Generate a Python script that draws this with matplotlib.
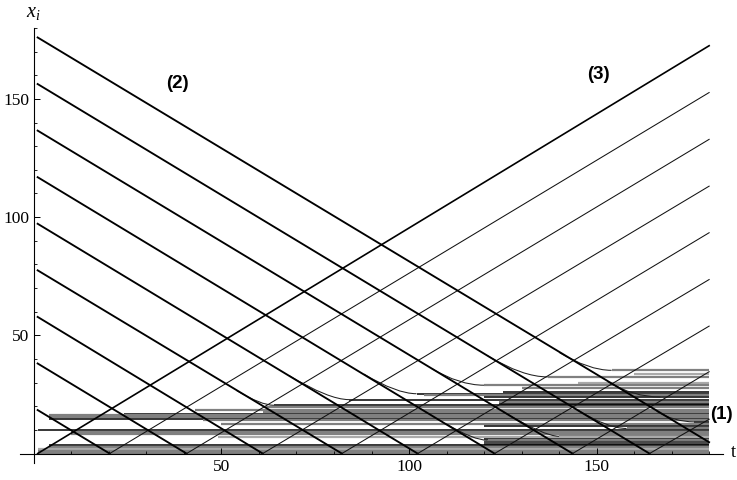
import matplotlib
matplotlib.use("Agg")
from matplotlib import pyplot as plt
from matplotlib.path import Path
from matplotlib.patches import PathPatch

# serif text like the original notebook output
plt.rcParams['font.family'] = ['Liberation Serif', 'DejaVu Serif']
plt.rcParams['mathtext.fontset'] = 'custom'
plt.rcParams['mathtext.rm'] = 'Liberation Serif'
plt.rcParams['mathtext.it'] = 'Liberation Serif:italic'

# time range of the run
t_first = 1
t_last = 180
# speed of the moving particles (slope)
speed = 0.958

# group (2): particles moving down, position at t_first and time they hit x=0
desc_start = [18.4, 38.1, 57.8, 77.5, 97.2, 116.9, 136.6, 156.3, 176.0]
desc_bounce = [20.2, 40.7, 61.0, 82.1, 102.3, 122.8, 143.6, 164.1, None]
# the top one never reaches the wall, this is where it is at t_last
desc_top_end = 4.8

# group (3): particles moving up, position at t_last
# first one starts at the origin, the others come from the bounces above
asc_end = [172.5, 152.7, 132.9, 113.1, 93.4, 73.6, 53.9, 34.6, 14.5]

# particles that leave a falling line and slow down to rest
curve_t0 = [54, 68, 88, 106, 121, 140, 153, 166, 145, 125, 110]
curve_x0 = [26.7, 33.0, 33.6, 36.0, 41.3, 42.8, 30.4, 17.9, 18.3, 17.8, 12.5]
curve_level = [20.4, 22.8, 25.3, 28.9, 32.4, 35.2, 23.9, 13.4, 10.6, 7.3, 5.6]
curve_t1 = [64, 84, 102, 120, 137, 154, 167, 176, 158, 140, 121]

# group (1): particles at rest, level, time they appear, shade
rest_level = [35.2, 33.6, 32.4, 29.7, 28.9, 27.7, 26.0, 25.3, 24.6, 23.9,
              22.8, 21.8, 21.1, 20.4, 19.7, 18.6, 17.6, 16.9, 16.2, 15.5,
              14.8, 14.1, 13.4, 12.4, 11.5, 10.6, 10.1, 9.1, 8.4, 7.3,
              7.0, 6.3, 5.6, 4.9, 4.2, 3.5, 2.8, 1.8, 1.1, 0.4]
rest_start = [154, 160, 137, 145, 120, 130, 125, 102, 104, 120,
              84, 124, 124, 64, 62, 43, 61, 24, 4, 4,
              4, 45, 176, 50, 120, 158, 1, 10, 10, 140,
              49, 120, 121, 120, 120, 4, 4, 1, 1, 1]
rest_shade = ['g', 'l', 'g', 'l', 'g', 'g', 'k', 'k', 'g', 'k',
              'k', 'g', 'k', 'k', 'g', 'g', 'g', 'k', 'g', 'g',
              'k', 'g', 'k', 'g', 'k', 'g', 'k', 'g', 'g', 'g',
              'l', 'k', 'g', 'd', 'd', 'k', 'g', 'l', 'g', 'g']
shades = {'k': '#000000', 'd': '#4a4a4a', 'g': '#808080', 'l': '#aaaaaa'}

fig = plt.figure(figsize=(7.37, 4.80), dpi=100)
ax = fig.add_axes([20 / 737, 17 / 480, 703 / 737, 435 / 480])

# resting particles first so the moving ones sit on top
for lvl, ts, sh in zip(rest_level, rest_start, rest_shade):
    lw = 1.1 if sh == 'k' else 1.6
    ax.plot([ts, t_last], [lvl, lvl], color=shades[sh], lw=lw, solid_capstyle='butt', zorder=1)

# slowing particles, a smooth bend from the falling line onto the rest level
for t0, x0, lvl, t1 in zip(curve_t0, curve_x0, curve_level, curve_t1):
    tc = t0 + (x0 - lvl) / speed
    verts = [(t0, x0), (tc, lvl), (t1, lvl)]
    path = Path(verts, [Path.MOVETO, Path.CURVE3, Path.CURVE3])
    ax.add_patch(PathPatch(path, fill=False, edgecolor='#202020', lw=0.75, zorder=2))

# falling particles and their bounce off x=0
for i, s in enumerate(desc_start):
    b = desc_bounce[i]
    if b is None:
        ax.plot([t_first, t_last], [s, desc_top_end], color='black', lw=1.35, zorder=3)
    else:
        ax.plot([t_first, b], [s, 0], color='black', lw=1.35, zorder=3)
        ax.plot([b, t_last], [0, asc_end[i + 1]], color='#111111', lw=0.75, zorder=3)

# rising particle starting at the origin
ax.plot([t_first, t_last], [0, asc_end[0]], color='black', lw=1.2, zorder=3)

ax.set_xlim(-3.7, 183.7)
ax.set_ylim(-4.0, 179.7)

# axes through the origin, no frame
ax.spines['left'].set_position(('data', 0))
ax.spines['bottom'].set_position(('data', 0))
ax.spines['top'].set_visible(False)
ax.spines['right'].set_visible(False)
for side in ['left', 'bottom']:
    ax.spines[side].set_linewidth(0.8)

ax.set_xticks([50, 100, 150])
ax.set_xticks([t for t in range(10, 181, 10) if t % 50 != 0], minor=True)
ax.set_yticks([50, 100, 150])
ax.set_yticks([v for v in range(10, 181, 10) if v % 50 != 0], minor=True)
ax.tick_params(which='major', direction='in', length=4, width=0.7, labelsize=12.5)
ax.tick_params(which='minor', direction='in', length=2.2, width=0.6)
ax.tick_params(axis='x', which='major', pad=4)
ax.tick_params(axis='y', which='major', pad=3.5)

# axis names
ax.text(-0.2, 186.5, r'$x_i$', fontsize=14.5, ha='center', va='center', clip_on=False)
ax.text(186.4, 0.3, 't', fontsize=13.5, ha='center', va='center', clip_on=False)

# group labels
ax.text(38.4, 156.5, '(2)', family='Liberation Sans', fontweight='bold', fontsize=13.5,
        ha='center', va='center')
ax.text(150.4, 160.3, '(3)', family='Liberation Sans', fontweight='bold', fontsize=13.5,
        ha='center', va='center')
ax.text(183.3, 16.7, '(1)', family='Liberation Sans', fontweight='bold', fontsize=13.5,
        ha='center', va='center', clip_on=False)

fig.savefig('out.png', dpi=100)
